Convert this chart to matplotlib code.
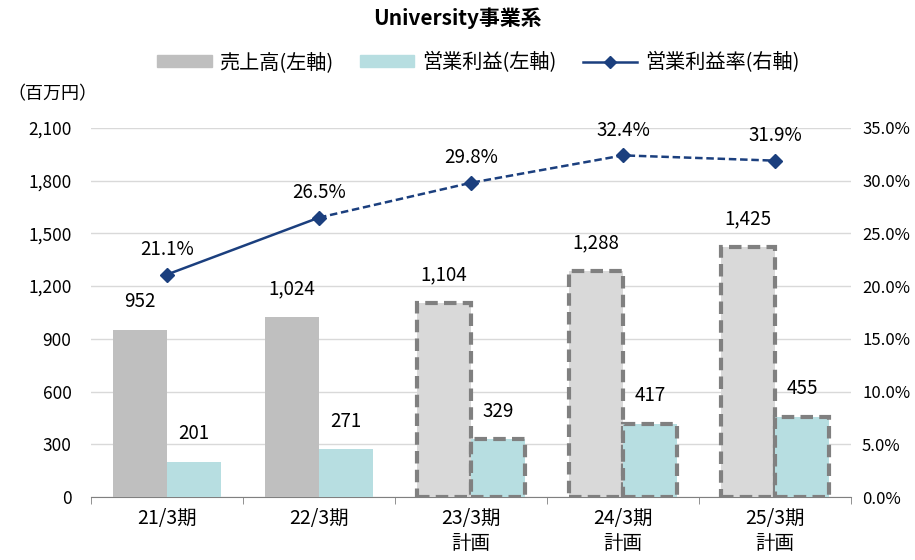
import matplotlib
matplotlib.use("Agg")
import matplotlib.pyplot as plt
import numpy as np
from matplotlib.lines import Line2D
from matplotlib.patches import Patch

plt.rcParams['font.family'] = ['Noto Sans CJK JP', 'DejaVu Sans']

categories = ["21/3期", "22/3期", "23/3期\n計画", "24/3期\n計画", "25/3期\n計画"]
sales = [952, 1024, 1104, 1288, 1425]
profit = [201, 271, 329, 417, 455]
margin = [21.1, 26.5, 29.8, 32.4, 31.9]
is_plan = [False, False, True, True, True]

fig = plt.figure(figsize=(9.15, 5.6), dpi=100)
ax = fig.add_axes([0.0995, 0.1125, 0.8305, 0.659])
ax2 = ax.twinx()

x = np.arange(len(categories))
w = 0.355
fs_tick = 12.5
fs_lab = 13.5

for i in range(len(x)):
    if is_plan[i]:
        ax.bar(x[i] - w/2, sales[i], w, color="#D9D9D9", edgecolor="#808080",
               linestyle=(0, (3, 1.5)), linewidth=3, zorder=3)
        ax.bar(x[i] + w/2, profit[i], w, color="#B7DEE1", edgecolor="#808080",
               linestyle=(0, (3, 1.5)), linewidth=3, zorder=3)
    else:
        ax.bar(x[i] - w/2, sales[i], w, color="#BFBFBF", zorder=3)
        ax.bar(x[i] + w/2, profit[i], w, color="#B7DEE1", zorder=3)
    ax.text(x[i] - w/2, sales[i] + 160, f"{sales[i]:,}", ha="center", va="center", fontsize=fs_lab)
    ax.text(x[i] + w/2, profit[i] + 160, f"{profit[i]:,}", ha="center", va="center", fontsize=fs_lab)

ax.set_xlim(-0.5, len(x) - 0.5)
ax.set_ylim(0, 2100)
ax.set_yticks(np.arange(0, 2101, 300))
ax.set_yticklabels([f"{v:,}" for v in range(0, 2101, 300)], fontsize=fs_tick)
ax.set_xticks(x)
ax.set_xticklabels(categories, fontsize=14, linespacing=1.25)
ax.grid(axis="y", color="#D9D9D9", linewidth=1, zorder=0)
ax.set_axisbelow(True)
for s in ["top", "right", "left"]:
    ax.spines[s].set_visible(False)
ax.spines["bottom"].set_color("#808080")
ax.tick_params(axis="y", length=0, pad=14)
ax.set_xticks(np.arange(-0.5, len(x), 1.0), minor=True)
ax.tick_params(axis="x", which="minor", length=5, color="#808080")
ax.tick_params(axis="x", which="major", length=0, pad=8)

ax2.set_ylim(0, 35)
ax2.set_yticks(np.arange(0, 35.1, 5))
ax2.set_yticklabels([f"{v:.1f}%" for v in np.arange(0, 35.1, 5)], fontsize=12)
ax2.tick_params(axis="y", length=0, pad=8)
for s in ["top", "right", "left", "bottom"]:
    ax2.spines[s].set_visible(False)

lc = "#1B3F7E"
ax2.plot(x[:2], margin[:2], color=lc, linewidth=1.8, zorder=5)
ax2.plot(x[1:], margin[1:], color=lc, linewidth=1.8, linestyle=(0, (3, 1.5)), zorder=5)
ax2.plot(x, margin, linestyle="none", marker="D", markersize=7, color=lc, zorder=6)
for i in range(len(x)):
    ax2.text(x[i], margin[i] + 2.4, f"{margin[i]:.1f}%", ha="center", va="center", fontsize=fs_lab)

fig.text(0.5, 0.967, "University事業系", ha="center", va="center", fontsize=15, fontweight="bold")
fig.text(0.008, 0.832, "（百万円）", ha="left", va="center", fontsize=13)

handles = [Patch(color="#BFBFBF"), Patch(color="#B7DEE1"),
           Line2D([0], [0], color=lc, marker="D", markersize=6, linewidth=1.8)]
labels = ["売上高(左軸)", "営業利益(左軸)", "営業利益率(右軸)"]
fig.legend(handles, labels, loc="center", bbox_to_anchor=(0.523, 0.888), ncol=3,
           frameon=False, fontsize=14.5, handlelength=2.7, handleheight=0.5,
           columnspacing=1.3, handletextpad=0.4)

fig.savefig("out.png", dpi=100)
